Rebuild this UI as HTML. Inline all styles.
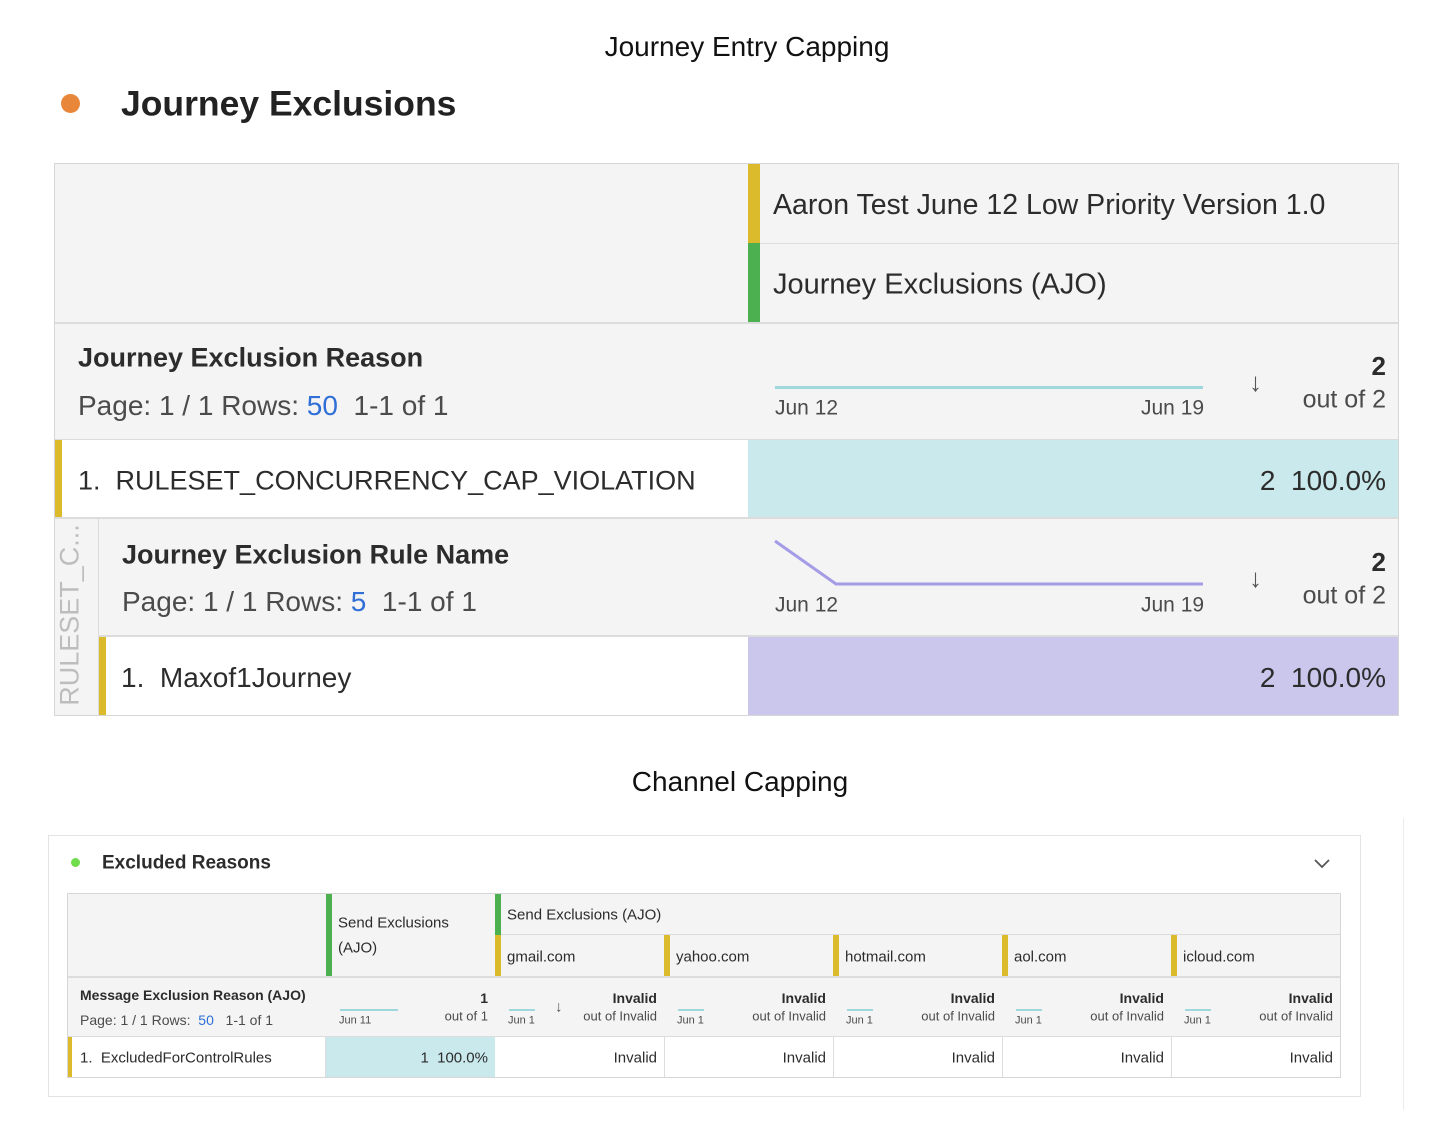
<!DOCTYPE html>
<html><head><meta charset="utf-8"><style>
*{margin:0;padding:0;box-sizing:border-box}
body{width:1454px;height:1128px;background:#fff;position:relative;overflow:hidden;font-family:"Liberation Sans",sans-serif;color:#2c2c2c}
.a{position:absolute}
.t{position:absolute;white-space:nowrap;line-height:1;transform:translateY(-50%)}
.r{text-align:right}
.b{font-weight:bold}
.g{color:#4b4b4b}
.ar{font-weight:bold;color:#555}
</style></head><body>
<div class="t" style="left:0;width:1494px;text-align:center;top:47px;font-size:28px;color:#111">Journey Entry Capping</div>
<div class="a" style="left:61px;top:94px;width:19px;height:19px;border-radius:50%;background:#e8873a"></div>
<div class="t b" style="left:121px;top:104px;font-size:35.5px;color:#222">Journey Exclusions</div>

<!-- top table -->
<div class="a" style="left:54px;top:163px;width:1345px;height:553px;background:#f4f4f4;border:1px solid #d6d6d6"></div>
<div class="a" style="left:748px;top:164px;width:12px;height:79px;background:#dbbb2c"></div>
<div class="a" style="left:748px;top:243px;width:12px;height:79px;background:#4caf50"></div>
<div class="a" style="left:760px;top:243px;width:638px;height:1px;background:#dcdcdc"></div>
<div class="a" style="left:55px;top:322px;width:1343px;height:2px;background:#dcdcdc"></div>
<div class="t" style="left:773px;top:205px;font-size:28.5px">Aaron Test June 12 Low Priority Version 1.0</div>
<div class="t" style="left:773px;top:285px;font-size:29px">Journey Exclusions (AJO)</div>

<div class="t b" style="left:78px;top:358px;font-size:27px">Journey Exclusion Reason</div>
<div class="t g" style="left:78px;top:406px;font-size:28px">Page: 1 / 1 Rows: <span style="color:#2f6fd6">50</span>&nbsp; 1-1 of 1</div>
<div class="a" style="left:775px;top:386px;width:428px;height:3px;background:#9fd8dc"></div>
<div class="t g" style="left:775px;top:408px;font-size:21px">Jun 12</div>
<div class="t g" style="left:1141px;top:408px;font-size:21px">Jun 19</div>
<div class="t ar" style="left:1249px;top:382px;font-size:26px">&#8595;</div>
<div class="t b r" style="right:68px;top:366px;font-size:26px">2</div>
<div class="t g r" style="right:68px;top:400px;font-size:25px">out of 2</div>

<div class="a" style="left:55px;top:439px;width:1343px;height:1px;background:#dcdcdc"></div>
<div class="a" style="left:55px;top:440px;width:693px;height:77px;background:#fff"></div>
<div class="a" style="left:55px;top:440px;width:7px;height:77px;background:#dbbb2c"></div>
<div class="a" style="left:748px;top:440px;width:650px;height:77px;background:#c9e9ec"></div>
<div class="t" style="left:78px;top:481px;font-size:27px">1.&nbsp; RULESET_CONCURRENCY_CAP_VIOLATION</div>
<div class="t r" style="right:68px;top:481px;font-size:28px">2&nbsp; 100.0%</div>
<div class="a" style="left:55px;top:517px;width:1343px;height:2px;background:#dcdcdc"></div>

<div class="a" style="left:98px;top:519px;width:1px;height:196px;background:#dcdcdc"></div>
<div class="a" style="left:70px;top:615px;transform:translate(-50%,-50%) rotate(-90deg);font-size:27px;color:#bdbdbd;white-space:nowrap;line-height:1">RULESET_C...</div>
<div class="t b" style="left:122px;top:555px;font-size:27px">Journey Exclusion Rule Name</div>
<div class="t g" style="left:122px;top:602px;font-size:28px">Page: 1 / 1 Rows: <span style="color:#2f6fd6">5</span>&nbsp; 1-1 of 1</div>
<svg class="a" style="left:770px;top:535px" width="440" height="60"><polyline points="5,6 66,49 433,49" fill="none" stroke="#a49ce6" stroke-width="3"/></svg>
<div class="t g" style="left:775px;top:605px;font-size:21px">Jun 12</div>
<div class="t g" style="left:1141px;top:605px;font-size:21px">Jun 19</div>
<div class="t ar" style="left:1249px;top:578px;font-size:26px">&#8595;</div>
<div class="t b r" style="right:68px;top:562px;font-size:26px">2</div>
<div class="t g r" style="right:68px;top:596px;font-size:25px">out of 2</div>
<div class="a" style="left:99px;top:635px;width:1299px;height:2px;background:#dcdcdc"></div>
<div class="a" style="left:99px;top:637px;width:649px;height:78px;background:#fff"></div>
<div class="a" style="left:99px;top:637px;width:7px;height:78px;background:#dbbb2c"></div>
<div class="a" style="left:748px;top:637px;width:650px;height:78px;background:#cbc6ec"></div>
<div class="t" style="left:121px;top:678px;font-size:28px">1.&nbsp; Maxof1Journey</div>
<div class="t r" style="right:68px;top:678px;font-size:28px">2&nbsp; 100.0%</div>

<!-- bottom -->
<div class="t" style="left:0;width:1480px;text-align:center;top:782px;font-size:28px;color:#111">Channel Capping</div>
<div class="a" style="left:1403px;top:818px;width:1px;height:292px;background:#ececec"></div>
<div class="a" style="left:48px;top:835px;width:1313px;height:262px;border:1px solid #e3e3e3;background:#fff"></div>
<div class="a" style="left:71px;top:858px;width:9px;height:9px;border-radius:50%;background:#6fdc4c"></div>
<div class="t b" style="left:102px;top:863px;font-size:19px">Excluded Reasons</div>
<svg class="a" style="left:1313px;top:857px" width="18" height="12"><polyline points="2,3 9,10 16,3" fill="none" stroke="#555" stroke-width="1.8"/></svg>

<div class="a" style="left:67px;top:893px;width:1274px;height:185px;background:#f4f4f4;border:1px solid #d6d6d6"></div>
<div class="a" style="left:326px;top:894px;width:6px;height:82px;background:#4caf50"></div>
<div class="a" style="left:495px;top:894px;width:6px;height:41px;background:#4caf50"></div>
<div class="a" style="left:501px;top:934px;width:839px;height:1px;background:#dcdcdc"></div>
<div class="a" style="left:495px;top:935px;width:6px;height:41px;background:#dbbb2c"></div>
<div class="a" style="left:664px;top:935px;width:6px;height:41px;background:#dbbb2c"></div>
<div class="a" style="left:833px;top:935px;width:6px;height:41px;background:#dbbb2c"></div>
<div class="a" style="left:1002px;top:935px;width:6px;height:41px;background:#dbbb2c"></div>
<div class="a" style="left:1171px;top:935px;width:6px;height:41px;background:#dbbb2c"></div>
<div class="t" style="left:338px;top:923px;font-size:15px">Send Exclusions</div>
<div class="t" style="left:338px;top:948px;font-size:15px">(AJO)</div>
<div class="t" style="left:507px;top:915px;font-size:15px">Send Exclusions (AJO)</div>
<div class="t" style="left:507px;top:957px;font-size:15px">gmail.com</div>
<div class="t" style="left:676px;top:957px;font-size:15px">yahoo.com</div>
<div class="t" style="left:845px;top:957px;font-size:15px">hotmail.com</div>
<div class="t" style="left:1014px;top:957px;font-size:15px">aol.com</div>
<div class="t" style="left:1183px;top:957px;font-size:15px">icloud.com</div>
<div class="a" style="left:68px;top:976px;width:1272px;height:2px;background:#dcdcdc"></div>

<div class="t b" style="left:80px;top:995px;font-size:14px">Message Exclusion Reason (AJO)</div>
<div class="t g" style="left:80px;top:1020px;font-size:14px">Page: 1 / 1 Rows:&nbsp; <span style="color:#2f6fd6">50</span>&nbsp;&nbsp; 1-1 of 1</div>
<div class="a" style="left:340px;top:1009px;width:58px;height:2px;background:#9fd8dc"></div>
<div class="t g" style="left:339px;top:1021px;font-size:11px">Jun 11</div>
<div class="t b r" style="right:966px;top:998px;font-size:14px">1</div>
<div class="t g r" style="right:966px;top:1016px;font-size:13px">out of 1</div>

<div class="a" style="left:509px;top:1009px;width:26px;height:2px;background:#9fd8dc"></div>
<div class="t g" style="left:508px;top:1021px;font-size:11px">Jun 1</div>
<div class="t ar" style="left:555px;top:1007px;font-size:15px">&#8595;</div>
<div class="t b r" style="right:797px;top:998px;font-size:14px">Invalid</div>
<div class="t g r" style="right:797px;top:1016px;font-size:13px">out of Invalid</div>

<div class="a" style="left:678px;top:1009px;width:26px;height:2px;background:#9fd8dc"></div>
<div class="t g" style="left:677px;top:1021px;font-size:11px">Jun 1</div>
<div class="t b r" style="right:628px;top:998px;font-size:14px">Invalid</div>
<div class="t g r" style="right:628px;top:1016px;font-size:13px">out of Invalid</div>

<div class="a" style="left:847px;top:1009px;width:26px;height:2px;background:#9fd8dc"></div>
<div class="t g" style="left:846px;top:1021px;font-size:11px">Jun 1</div>
<div class="t b r" style="right:459px;top:998px;font-size:14px">Invalid</div>
<div class="t g r" style="right:459px;top:1016px;font-size:13px">out of Invalid</div>

<div class="a" style="left:1016px;top:1009px;width:26px;height:2px;background:#9fd8dc"></div>
<div class="t g" style="left:1015px;top:1021px;font-size:11px">Jun 1</div>
<div class="t b r" style="right:290px;top:998px;font-size:14px">Invalid</div>
<div class="t g r" style="right:290px;top:1016px;font-size:13px">out of Invalid</div>

<div class="a" style="left:1185px;top:1009px;width:26px;height:2px;background:#9fd8dc"></div>
<div class="t g" style="left:1184px;top:1021px;font-size:11px">Jun 1</div>
<div class="t b r" style="right:121px;top:998px;font-size:14px">Invalid</div>
<div class="t g r" style="right:121px;top:1016px;font-size:13px">out of Invalid</div>

<div class="a" style="left:68px;top:1036px;width:1272px;height:1px;background:#dcdcdc"></div>
<div class="a" style="left:68px;top:1037px;width:1272px;height:40px;background:#fff"></div>
<div class="a" style="left:68px;top:1037px;width:4px;height:40px;background:#dbbb2c"></div>
<div class="a" style="left:326px;top:1037px;width:169px;height:40px;background:#c9e9ec"></div>
<div class="a" style="left:325px;top:1037px;width:1px;height:40px;background:#dcdcdc"></div>
<div class="a" style="left:664px;top:1037px;width:1px;height:40px;background:#dcdcdc"></div>
<div class="a" style="left:833px;top:1037px;width:1px;height:40px;background:#dcdcdc"></div>
<div class="a" style="left:1002px;top:1037px;width:1px;height:40px;background:#dcdcdc"></div>
<div class="a" style="left:1171px;top:1037px;width:1px;height:40px;background:#dcdcdc"></div>
<div class="t" style="left:80px;top:1058px;font-size:15px">1.&nbsp; ExcludedForControlRules</div>
<div class="t r" style="right:966px;top:1058px;font-size:15px">1&nbsp; 100.0%</div>
<div class="t r" style="right:797px;top:1058px;font-size:15px">Invalid</div>
<div class="t r" style="right:628px;top:1058px;font-size:15px">Invalid</div>
<div class="t r" style="right:459px;top:1058px;font-size:15px">Invalid</div>
<div class="t r" style="right:290px;top:1058px;font-size:15px">Invalid</div>
<div class="t r" style="right:121px;top:1058px;font-size:15px">Invalid</div>
</body></html>
